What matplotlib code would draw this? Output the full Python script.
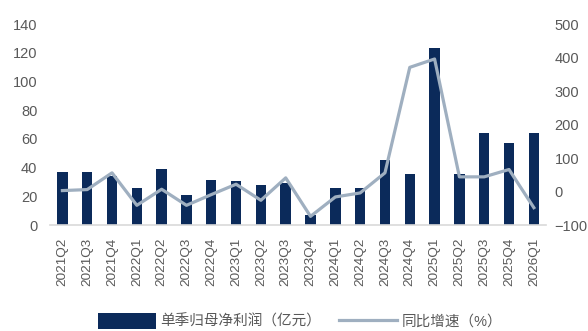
import matplotlib
matplotlib.use("Agg")
import matplotlib.pyplot as plt
import numpy as np

plt.rcParams['font.family'] = ['Liberation Sans', 'Noto Sans CJK SC', 'DejaVu Sans']

quarters = ['2021Q2', '2021Q3', '2021Q4', '2022Q1', '2022Q2', '2022Q3', '2022Q4',
            '2023Q1', '2023Q2', '2023Q3', '2023Q4', '2024Q1', '2024Q2', '2024Q3',
            '2024Q4', '2025Q1', '2025Q2', '2025Q3', '2025Q4', '2026Q1']
profit = [37, 37, 34, 25.5, 39, 21, 31.5, 31, 28, 29.5, 7, 25.5, 25.5, 45.5,
          35.5, 123.5, 35.5, 64, 57.5, 64]
growth = [3, 6, 56, -41, 7, -41, -9, 22, -26, 41, -74, -16, -4, 56,
          371, 396, 44, 44, 66, -48]

bar_color = '#0b2a5a'
line_color = '#9fafc0'
text_color = '#595959'

fig = plt.figure(figsize=(5.88, 3.31), dpi=100)
ax = fig.add_axes([0.085, 0.32, 0.844, 0.607])
x = np.arange(len(quarters))
bars = ax.bar(x, profit, width=0.42, color=bar_color)
ax.set_xlim(-0.5, len(quarters) - 0.5)
ax.set_ylim(0, 140)
ax.set_yticks(range(0, 141, 20))
ax.set_xticks(x)
ax.set_xticklabels(quarters, rotation=90, fontsize=9.7, color=text_color)
ax.tick_params(axis='y', length=0, pad=9, labelsize=10.5, labelcolor=text_color)
ax.tick_params(axis='x', length=0, pad=9)
for s in ['top', 'left', 'right']:
    ax.spines[s].set_visible(False)
ax.spines['bottom'].set_color('#d9d9d9')
ax.spines['bottom'].set_linewidth(1.2)

ax2 = ax.twinx()
line, = ax2.plot(x, growth, color=line_color, lw=2.3)
ax2.set_ylim(-100, 500)
ax2.set_yticks(range(-100, 501, 100))
ax2.tick_params(axis='y', length=0, pad=6, labelsize=10.5, labelcolor=text_color)
for s in ['top', 'left', 'right', 'bottom']:
    ax2.spines[s].set_visible(False)

fig.legend([bars, line], ['单季归母净利润（亿元）', '同比增速（%）'],
           loc='center', bbox_to_anchor=(0.51, 0.03), ncol=2, frameon=False,
           fontsize=10.5, handlelength=4, handleheight=1.3, columnspacing=1.2,
           handletextpad=0.3, labelcolor=text_color)

fig.savefig('out.png', dpi=100)
